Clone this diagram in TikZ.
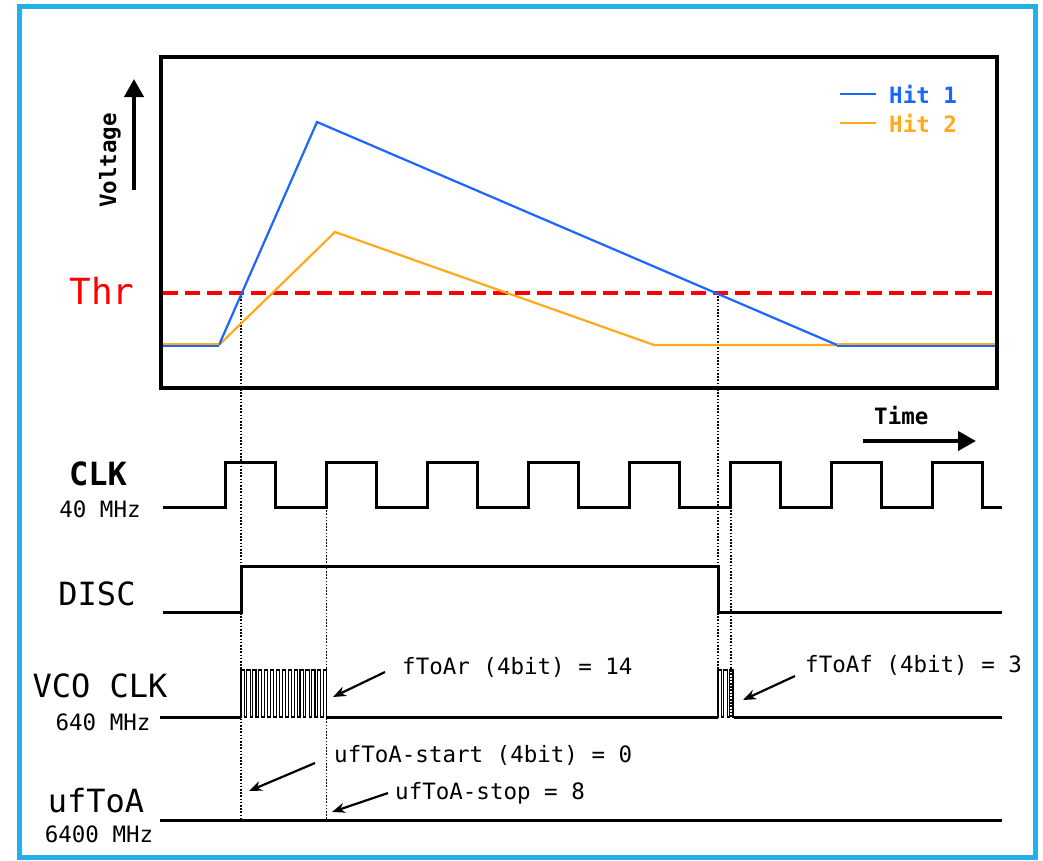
\documentclass[tikz,border=0pt]{standalone}
\usepackage{fontspec}
\setmonofont{DejaVu Sans Mono}
\usetikzlibrary{arrows.meta}
\definecolor{framecyan}{RGB}{35,176,232}
\definecolor{hitblue}{RGB}{26,102,255}
\definecolor{hitorange}{RGB}{255,170,26}
\definecolor{thrred}{RGB}{255,0,0}
\newcommand\mybigfont{\ttfamily\fontsize{32}{36}\selectfont}
\newcommand\mysmallfont{\ttfamily\fontsize{22.5}{26}\selectfont}
\newcommand\mythrfont{\ttfamily\fontsize{36}{40}\selectfont}
\begin{document}
\begin{tikzpicture}[x=1pt,y=-1pt,
  sig/.style={line width=3pt, line join=miter, line cap=butt},
  vcosig/.style={line width=1.1pt, line join=miter},
  guide/.style={line width=1.8pt, dash pattern=on 1.6pt off 1.6pt, black},
  ann/.style={-{Stealth[length=13pt,width=10pt]}, line width=2.2pt},
  bigarrow/.style={-{Triangle[length=18pt,width=19pt]}, line width=4pt},
  biglab/.style={font=\mybigfont, inner sep=0pt, anchor=base},
  smalllab/.style={font=\mysmallfont, inner sep=0pt, anchor=base},
  annlab/.style={font=\mysmallfont, inner sep=0pt, anchor=base west},
  curve/.style={line width=2.2pt, line join=miter},
  flat/.style={line width=1.6pt}
]
\useasboundingbox (0,0) rectangle (1043,860);
\fill[white] (0,0) rectangle (1043,860);
% outer frame
\draw[framecyan, line width=5pt] (19,6) rectangle (1035,857);

% guide lines (dotted)
\draw[guide] (241,293) -- (241,820);
\draw[guide] (326.5,507) -- (326.5,820);
\draw[guide] (718,293) -- (718,717);
\draw[guide] (731,507) -- (731,717);

% plot box
\draw[line width=3.5pt] (161,57) rectangle (997,388);
% threshold
\draw[thrred, line width=3.5pt, dash pattern=on 15pt off 7pt] (163,293) -- (995,293);
% hit curves
\draw[curve, hitorange] (219,345) -- (335,232) -- (654,345) -- (837,345);
\draw[curve, hitblue] (219,345) -- (317,122) -- (837,345);
% shared flat parts: orange on top, blue below
\draw[flat, hitblue] (163,345.8) -- (219,345.8);
\draw[flat, hitorange] (163,344.2) -- (219,344.2);
\draw[flat, hitblue] (837,345.8) -- (995,345.8);
\draw[flat, hitorange] (837,344.2) -- (995,344.2);

% legend
\draw[curve, hitblue] (840,94) -- (876,94);
\draw[curve, hitorange] (840,123) -- (876,123);
\node[annlab, font=\mysmallfont\bfseries, text=hitblue] (hit1) at (889,103) {Hit 1};
\node[annlab, font=\mysmallfont\bfseries, text=hitorange] (hit2) at (889,132) {Hit 2};

% voltage axis
\coordinate (vA) at (134,190);
\coordinate (vB) at (134,79);
\draw[bigarrow] (vA) -- (vB);
\node[font=\mysmallfont\bfseries, inner sep=0pt, rotate=90, anchor=base west] (volt) at (116,208) {Voltage};

% Thr label
\node[font=\mythrfont, text=thrred, inner sep=0pt, anchor=base] (thr) at (102,304) {Thr};

% Time arrow
\coordinate (tA) at (863,441);
\coordinate (tB) at (976,441);
\draw[bigarrow] (tA) -- (tB);
\node[annlab, font=\mysmallfont\bfseries] (time) at (874,424) {Time};

% CLK signal
\draw[sig] (163,507) \foreach \k in {0,...,7}{ -- ({225+\k*101.1},507) -- ({225+\k*101.1},462) -- ({275+\k*101.1},462) -- ({275+\k*101.1},507)} -- (1002,507);
% DISC signal
\draw[sig] (163,612) -- (241,612) -- (241,566) -- (718,566) -- (718,612) -- (1002,612);
% VCO CLK signal
\draw[vcosig] (160,717) -- (241,717) \foreach \i in {0,...,14}{ -- ({241+\i*5.9},717) -- ({241+\i*5.9},670) -- ({244.2+\i*5.9},670) -- ({244.2+\i*5.9},717)} -- (718,717) \foreach \i in {0,1,2}{ -- ({718+\i*5.9},717) -- ({718+\i*5.9},670) -- ({721.2+\i*5.9},670) -- ({721.2+\i*5.9},717)} -- (1002,717);
\draw[sig] (160,717) -- (241,717);
\draw[sig] (327,717) -- (718,717);
\draw[sig] (734,717) -- (1002,717);
% ufToA line
\draw[sig] (160,820) -- (1002,820);

% signal labels
\node[biglab, font=\mybigfont\bfseries] (clk) at (98,485) {CLK};
\node[smalllab] (clkf) at (100,517) {40 MHz};
\node[biglab] (disc) at (97,605) {DISC};
\node[biglab] (vco) at (100,697) {VCO CLK};
\node[smalllab] (vcof) at (103,730) {640 MHz};
\node[biglab] (uf) at (96,812) {ufToA};
\node[smalllab] (uff) at (99,842) {6400 MHz};

% annotations
\node[annlab] (fr) at (402,674) {fToAr (4bit) = 14};
\node[annlab] (ff) at (805,672) {fToAf (4bit) = 3};
\node[annlab] (us) at (334,762) {ufToA-start (4bit) = 0};
\node[annlab] (up) at (395,799) {ufToA-stop = 8};
\coordinate (frA) at (385,672); \coordinate (frB) at (333,697);
\coordinate (ffA) at (795,676); \coordinate (ffB) at (743,700);
\coordinate (usA) at (315,763); \coordinate (usB) at (249,791);
\coordinate (upA) at (388,793); \coordinate (upB) at (332,812);
\draw[ann] (frA) -- (frB);
\draw[ann] (ffA) -- (ffB);
\draw[ann] (usA) -- (usB);
\draw[ann] (upA) -- (upB);
\end{tikzpicture}
\end{document}
